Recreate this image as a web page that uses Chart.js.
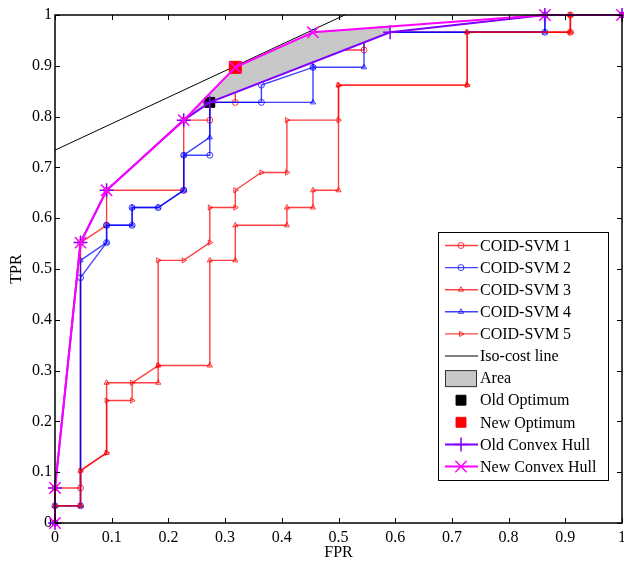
<!DOCTYPE html>
<html>
<head>
<meta charset="utf-8">
<script src="https://cdn.jsdelivr.net/npm/chart.js@4.4.0/dist/chart.umd.min.js"></script>
<style>
    body { margin: 0; background: #ffffff; }
</style>
</head>
<body>
<canvas id="rocChart" width="624" height="562"></canvas>
<script>
"use strict"

// ROC curves of the five COID-SVM runs (FPR / TPR)
const svm1Fpr = [0, 0, 0.045, 0.045, 0.091, 0.091, 0.227, 0.227, 0.273, 0.273, 0.318, 0.318, 0.409, 0.409, 0.545, 0.545, 0.909, 0.909, 1];
const svm1Tpr = [0, 0.069, 0.069, 0.552, 0.586, 0.655, 0.655, 0.793, 0.793, 0.828, 0.828, 0.897, 0.897, 0.931, 0.931, 0.966, 0.966, 1, 1];

const svm2Fpr = [0, 0, 0.045, 0.045, 0.091, 0.091, 0.136, 0.136, 0.182, 0.227, 0.227, 0.273, 0.273, 0.364, 0.364, 0.455, 0.455, 0.864, 0.864, 1];
const svm2Tpr = [0, 0.034, 0.034, 0.483, 0.552, 0.586, 0.586, 0.621, 0.621, 0.655, 0.724, 0.724, 0.828, 0.828, 0.862, 0.897, 0.966, 0.966, 1, 1];

const svm3Fpr = [0, 0, 0.045, 0.045, 0.091, 0.091, 0.182, 0.182, 0.273, 0.273, 0.318, 0.318, 0.409, 0.409, 0.455, 0.455, 0.5, 0.5, 0.727, 0.727, 0.909, 0.909, 1];
const svm3Tpr = [0, 0.034, 0.034, 0.103, 0.138, 0.276, 0.276, 0.31, 0.31, 0.517, 0.517, 0.586, 0.586, 0.621, 0.621, 0.655, 0.655, 0.862, 0.862, 0.966, 0.966, 1, 1];

const svm4Fpr = [0, 0, 0.045, 0.045, 0.091, 0.091, 0.136, 0.136, 0.182, 0.227, 0.227, 0.273, 0.273, 0.455, 0.455, 0.545, 0.545, 0.864, 0.864, 1];
const svm4Tpr = [0, 0.034, 0.034, 0.517, 0.552, 0.586, 0.586, 0.621, 0.621, 0.655, 0.724, 0.759, 0.828, 0.828, 0.897, 0.897, 0.966, 0.966, 1, 1];

const svm5Fpr = [0, 0, 0.045, 0.045, 0.091, 0.091, 0.136, 0.136, 0.182, 0.182, 0.227, 0.273, 0.273, 0.318, 0.318, 0.364, 0.409, 0.409, 0.5, 0.5, 0.727, 0.727, 0.909, 0.909, 1];
const svm5Tpr = [0, 0.034, 0.034, 0.103, 0.138, 0.241, 0.241, 0.276, 0.31, 0.517, 0.517, 0.552, 0.621, 0.621, 0.655, 0.69, 0.69, 0.793, 0.793, 0.862, 0.862, 0.966, 0.966, 1, 1];

// iso-cost line
const isoFpr = [0, 0.511];
const isoTpr = [0.734, 1];

// area between the two hulls
const areaFpr = [0.227, 0.318, 0.455, 0.591, 0.591, 0.273, 0.227];
const areaTpr = [0.793, 0.897, 0.966, 0.977, 0.966, 0.828, 0.793];

// optimum points
const oldOptFpr = [0.273];
const oldOptTpr = [0.828];
const newOptFpr = [0.318];
const newOptTpr = [0.897];

// convex hulls
const oldHullFpr = [0, 0, 0.045, 0.091, 0.227, 0.273, 0.591, 0.864, 1];
const oldHullTpr = [0, 0.069, 0.552, 0.655, 0.793, 0.828, 0.966, 1, 1];
const newHullFpr = [0, 0, 0.045, 0.091, 0.227, 0.318, 0.455, 0.864, 1];
const newHullTpr = [0, 0.069, 0.552, 0.655, 0.793, 0.897, 0.966, 1, 1];

const axisTicks = [0, 0.1, 0.2, 0.3, 0.4, 0.5, 0.6, 0.7, 0.8, 0.9, 1];

function points(xs, ys) {
    return xs.map((x, i) => ({ x: x, y: ys[i] }));
}

const serif = "'Liberation Serif', 'Times New Roman', serif";
const red = 'rgba(255, 0, 0, 0.75)';
const blue = 'rgba(0, 0, 255, 0.75)';

function curve(label, xs, ys, color, style, rotation, order) {
    return {
        label: label,
        data: points(xs, ys),
        showLine: true,
        borderColor: color,
        borderWidth: 1.4,
        pointStyle: style,
        pointRotation: rotation,
        pointRadius: 3,
        pointBorderWidth: 1,
        pointBorderColor: color,
        pointBackgroundColor: 'rgba(0,0,0,0)',
        tension: 0,
        order: order
    };
}

// box, inward ticks (MATLAB look)
const matlabAxes = {
    id: 'matlabAxes',
    afterDatasetsDraw(chart) {
        const ctx = chart.ctx;
        const a = chart.chartArea;
        const xs = chart.scales.x;
        const ys = chart.scales.y;
        ctx.save();
        ctx.strokeStyle = '#000';
        ctx.lineWidth = 1;
        ctx.beginPath();
        axisTicks.forEach(v => {
            const px = Math.round(xs.getPixelForValue(v)) + 0.5;
            ctx.moveTo(px, a.bottom); ctx.lineTo(px, a.bottom - 5);
            ctx.moveTo(px, a.top); ctx.lineTo(px, a.top + 5);
            const py = Math.round(ys.getPixelForValue(v)) + 0.5;
            ctx.moveTo(a.left, py); ctx.lineTo(a.left + 5, py);
            ctx.moveTo(a.right, py); ctx.lineTo(a.right - 5, py);
        });
        ctx.stroke();
        ctx.lineWidth = 1.5;
        ctx.strokeRect(a.left, a.top, a.right - a.left, a.bottom - a.top);
        ctx.restore();
    }
};

// legend drawn like the MATLAB one
const matlabLegend = {
    id: 'matlabLegend',
    afterDraw(chart) {
        const ctx = chart.ctx;
        ctx.save();
        ctx.fillStyle = '#fff';
        ctx.fillRect(438, 232, 170, 248);
        ctx.strokeStyle = '#000';
        ctx.lineWidth = 1;
        ctx.strokeRect(438.5, 232.5, 170, 248);
        ctx.font = '16px ' + serif;
        ctx.textBaseline = 'middle';
        chart.data.datasets.forEach((ds, i) => {
            const y = 245.5 + i * 22.1;
            if (ds.fill === 'shape') {
                ctx.fillStyle = ds.backgroundColor;
                ctx.fillRect(445, y - 8, 32, 17);
                ctx.strokeStyle = '#333';
                ctx.strokeRect(445.5, y - 7.5, 31, 16);
            } else {
                if (ds.showLine) {
                    ctx.strokeStyle = ds.borderColor;
                    ctx.lineWidth = ds.borderWidth;
                    ctx.beginPath();
                    ctx.moveTo(445, y);
                    ctx.lineTo(478, y);
                    ctx.stroke();
                }
                if (ds.pointRadius > 0) {
                    ctx.strokeStyle = ds.pointBorderColor;
                    ctx.fillStyle = ds.pointBackgroundColor;
                    ctx.lineWidth = ds.pointBorderWidth;
                    Chart.helpers.drawPoint(ctx, {
                        pointStyle: ds.pointStyle,
                        rotation: ds.pointRotation || 0,
                        radius: ds.legendRadius || ds.pointRadius,
                        borderWidth: ds.pointBorderWidth
                    }, 461, y);
                }
            }
            ctx.fillStyle = '#000';
            ctx.fillText(ds.label, 480, y + 1);
        });
        ctx.restore();
    }
};

const canvas = document.getElementById('rocChart');
const ctx = canvas.getContext('2d');

new Chart(ctx, {
    type: 'scatter',
    data: {
        datasets: [
            curve('COID-SVM 1', svm1Fpr, svm1Tpr, red, 'circle', 0, 20),
            curve('COID-SVM 2', svm2Fpr, svm2Tpr, blue, 'circle', 0, 19),
            curve('COID-SVM 3', svm3Fpr, svm3Tpr, red, 'triangle', 0, 18),
            curve('COID-SVM 4', svm4Fpr, svm4Tpr, blue, 'triangle', 0, 17),
            curve('COID-SVM 5', svm5Fpr, svm5Tpr, red, 'triangle', 90, 16),
            {
                label: 'Iso-cost line',
                data: points(isoFpr, isoTpr),
                showLine: true,
                borderColor: '#000',
                borderWidth: 1,
                pointRadius: 0,
                order: 15
            },
            {
                label: 'Area',
                data: points(areaFpr, areaTpr),
                showLine: true,
                fill: 'shape',
                backgroundColor: '#c8c8c8',
                borderColor: 'rgba(0,0,0,0)',
                borderWidth: 0,
                pointRadius: 0,
                order: 14
            },
            {
                label: 'Old Optimum',
                data: points(oldOptFpr, oldOptTpr),
                pointStyle: 'rect',
                pointRadius: 7,
                legendRadius: 7,
                pointBorderWidth: 1,
                pointBorderColor: '#000',
                pointBackgroundColor: '#000',
                order: 13
            },
            {
                label: 'New Optimum',
                data: points(newOptFpr, newOptTpr),
                pointStyle: 'rect',
                pointRadius: 8.5,
                legendRadius: 7,
                pointBorderWidth: 1,
                pointBorderColor: '#ff0000',
                pointBackgroundColor: '#ff0000',
                order: 12
            },
            {
                label: 'Old Convex Hull',
                data: points(oldHullFpr, oldHullTpr),
                showLine: true,
                borderColor: '#7f00ff',
                borderWidth: 2,
                pointStyle: 'cross',
                pointRadius: 7,
                pointBorderWidth: 1.5,
                pointBorderColor: '#7f00ff',
                tension: 0,
                order: 11
            },
            {
                label: 'New Convex Hull',
                data: points(newHullFpr, newHullTpr),
                showLine: true,
                borderColor: '#ff00ff',
                borderWidth: 2,
                pointStyle: 'crossRot',
                pointRadius: 8,
                pointBorderWidth: 1.5,
                pointBorderColor: '#ff00ff',
                tension: 0,
                order: 10
            }
        ]
    },
    options: {
        responsive: false,
        animation: false,
        clip: false,
        layout: { autoPadding: false, padding: { top: 15, right: 2, left: 0, bottom: 0 } },
        plugins: {
            legend: { display: false },
            tooltip: { enabled: false }
        },
        scales: {
            x: {
                type: 'linear',
                min: 0,
                max: 1,
                afterFit: function (s) { s.height = 39; s.paddingLeft = 0; s.paddingRight = 0; },
                afterBuildTicks: function (s) { s.ticks = axisTicks.map(v => ({ value: v })); },
                grid: { display: false, drawTicks: false },
                border: { display: false },
                ticks: {
                    color: '#000',
                    padding: 5,
                    maxRotation: 0,
                    callback: value => String(value),
                    font: { family: serif, size: 16 }
                },
                title: {
                    display: true,
                    text: 'FPR',
                    color: '#000',
                    padding: { top: 0, bottom: 0 },
                    font: { family: serif, size: 16 }
                }
            },
            y: {
                type: 'linear',
                min: 0,
                max: 1,
                afterFit: function (s) { s.width = 55; s.paddingTop = 0; s.paddingBottom = 0; },
                afterBuildTicks: function (s) { s.ticks = axisTicks.map(v => ({ value: v })); },
                grid: { display: false, drawTicks: false },
                border: { display: false },
                ticks: {
                    color: '#000',
                    padding: 3,
                    callback: value => String(value),
                    font: { family: serif, size: 16 }
                },
                title: {
                    display: true,
                    text: 'TPR',
                    color: '#000',
                    padding: { top: 7, bottom: 0 },
                    font: { family: serif, size: 16 }
                }
            }
        }
    },
    plugins: [matlabAxes, matlabLegend]
});
</script>
</body>
</html>
